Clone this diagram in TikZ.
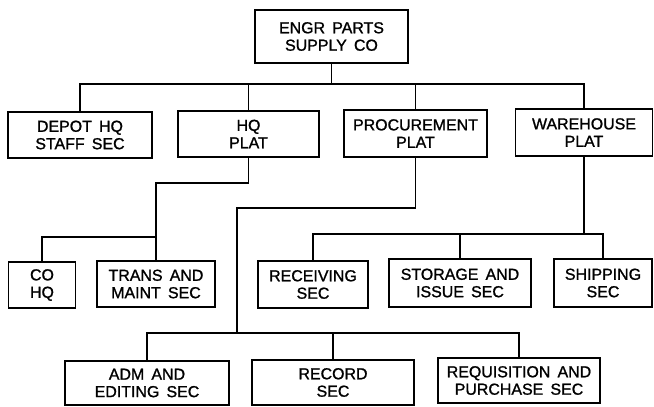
\documentclass[tikz,border=0pt]{standalone}
\usepackage{fontspec}
\setmainfont{Liberation Sans}[BoldFont={Liberation Sans},BoldFeatures={FakeBold=1.2}]
\begin{document}
\begin{tikzpicture}[x=1bp,y=-1bp,
  box/.style={draw, line width=1.2bp, inner sep=0pt, align=center,
    font={\fontsize{16}{17.5}\selectfont\bfseries\spaceskip=0.45em\relax}},
  wire/.style={line width=1.6bp}]
\useasboundingbox (0,0) rectangle (654,406);
% boxes
\node[box, minimum width=153bp, minimum height=53bp] (top) at (331.5,36.5) {ENGR PARTS\\SUPPLY CO};
\node[box, minimum width=144bp, minimum height=46bp] (depot) at (80,135) {DEPOT HQ\\STAFF SEC};
\node[box, minimum width=141bp, minimum height=46bp] (hq) at (248.5,134) {HQ\\PLAT};
\node[box, minimum width=143bp, minimum height=47bp] (proc) at (415.5,133.5) {PROCUREMENT\\PLAT};
\node[box, minimum width=137bp, minimum height=47bp] (wh) at (584,132.5) {WAREHOUSE\\PLAT};
\node[box, minimum width=67bp, minimum height=46bp] (co) at (42,285) {CO\\HQ};
\node[box, minimum width=118bp, minimum height=46bp] (trans) at (156,284) {TRANS AND\\MAINT SEC};
\node[box, minimum width=110bp, minimum height=47bp] (recv) at (313,284.5) {RECEIVING\\SEC};
\node[box, minimum width=142bp, minimum height=48bp] (stor) at (460,283) {STORAGE AND\\ISSUE SEC};
\node[box, minimum width=98bp, minimum height=48bp] (ship) at (603,283) {SHIPPING\\SEC};
\node[box, minimum width=164bp, minimum height=44bp] (adm) at (147,383) {ADM AND\\EDITING SEC};
\node[box, minimum width=162bp, minimum height=45bp] (rec) at (333,382.5) {RECORD\\SEC};
\node[box, minimum width=162bp, minimum height=45bp] (req) at (519,380.5) {REQUISITION AND\\PURCHASE SEC};
% junction points
\coordinate (b1) at (331.5,84);
\coordinate (hqturn) at (156,183);
\coordinate (hqbus) at (156,237);
\coordinate (pturn) at (237,208);
\coordinate (pbus) at (237,333);
\coordinate (wbus) at (584,234);
% top level
\draw[wire] (top.south) -- (b1);
\draw[wire] (depot.north) |- (b1) -| (wh.north);
\draw[wire] (hq.north) -- (hq.north |- b1);
\draw[wire] (proc.north) -- (proc.north |- b1);
% HQ platoon
\draw[wire] (hq.south) |- (hqturn) -- (trans.north);
\draw[wire] (co.north) |- (hqbus);
% procurement platoon
\draw[wire] (proc.south) |- (pturn) -- (pbus);
\draw[wire] (adm.north) |- (pbus) -| (req.north);
\draw[wire] (rec.north) -- (rec.north |- pbus);
% warehouse platoon
\draw[wire] (wh.south) -- (wbus);
\draw[wire] (recv.north) |- (wbus) -| (ship.north);
\draw[wire] (stor.north) -- (stor.north |- wbus);
\end{tikzpicture}
\end{document}
